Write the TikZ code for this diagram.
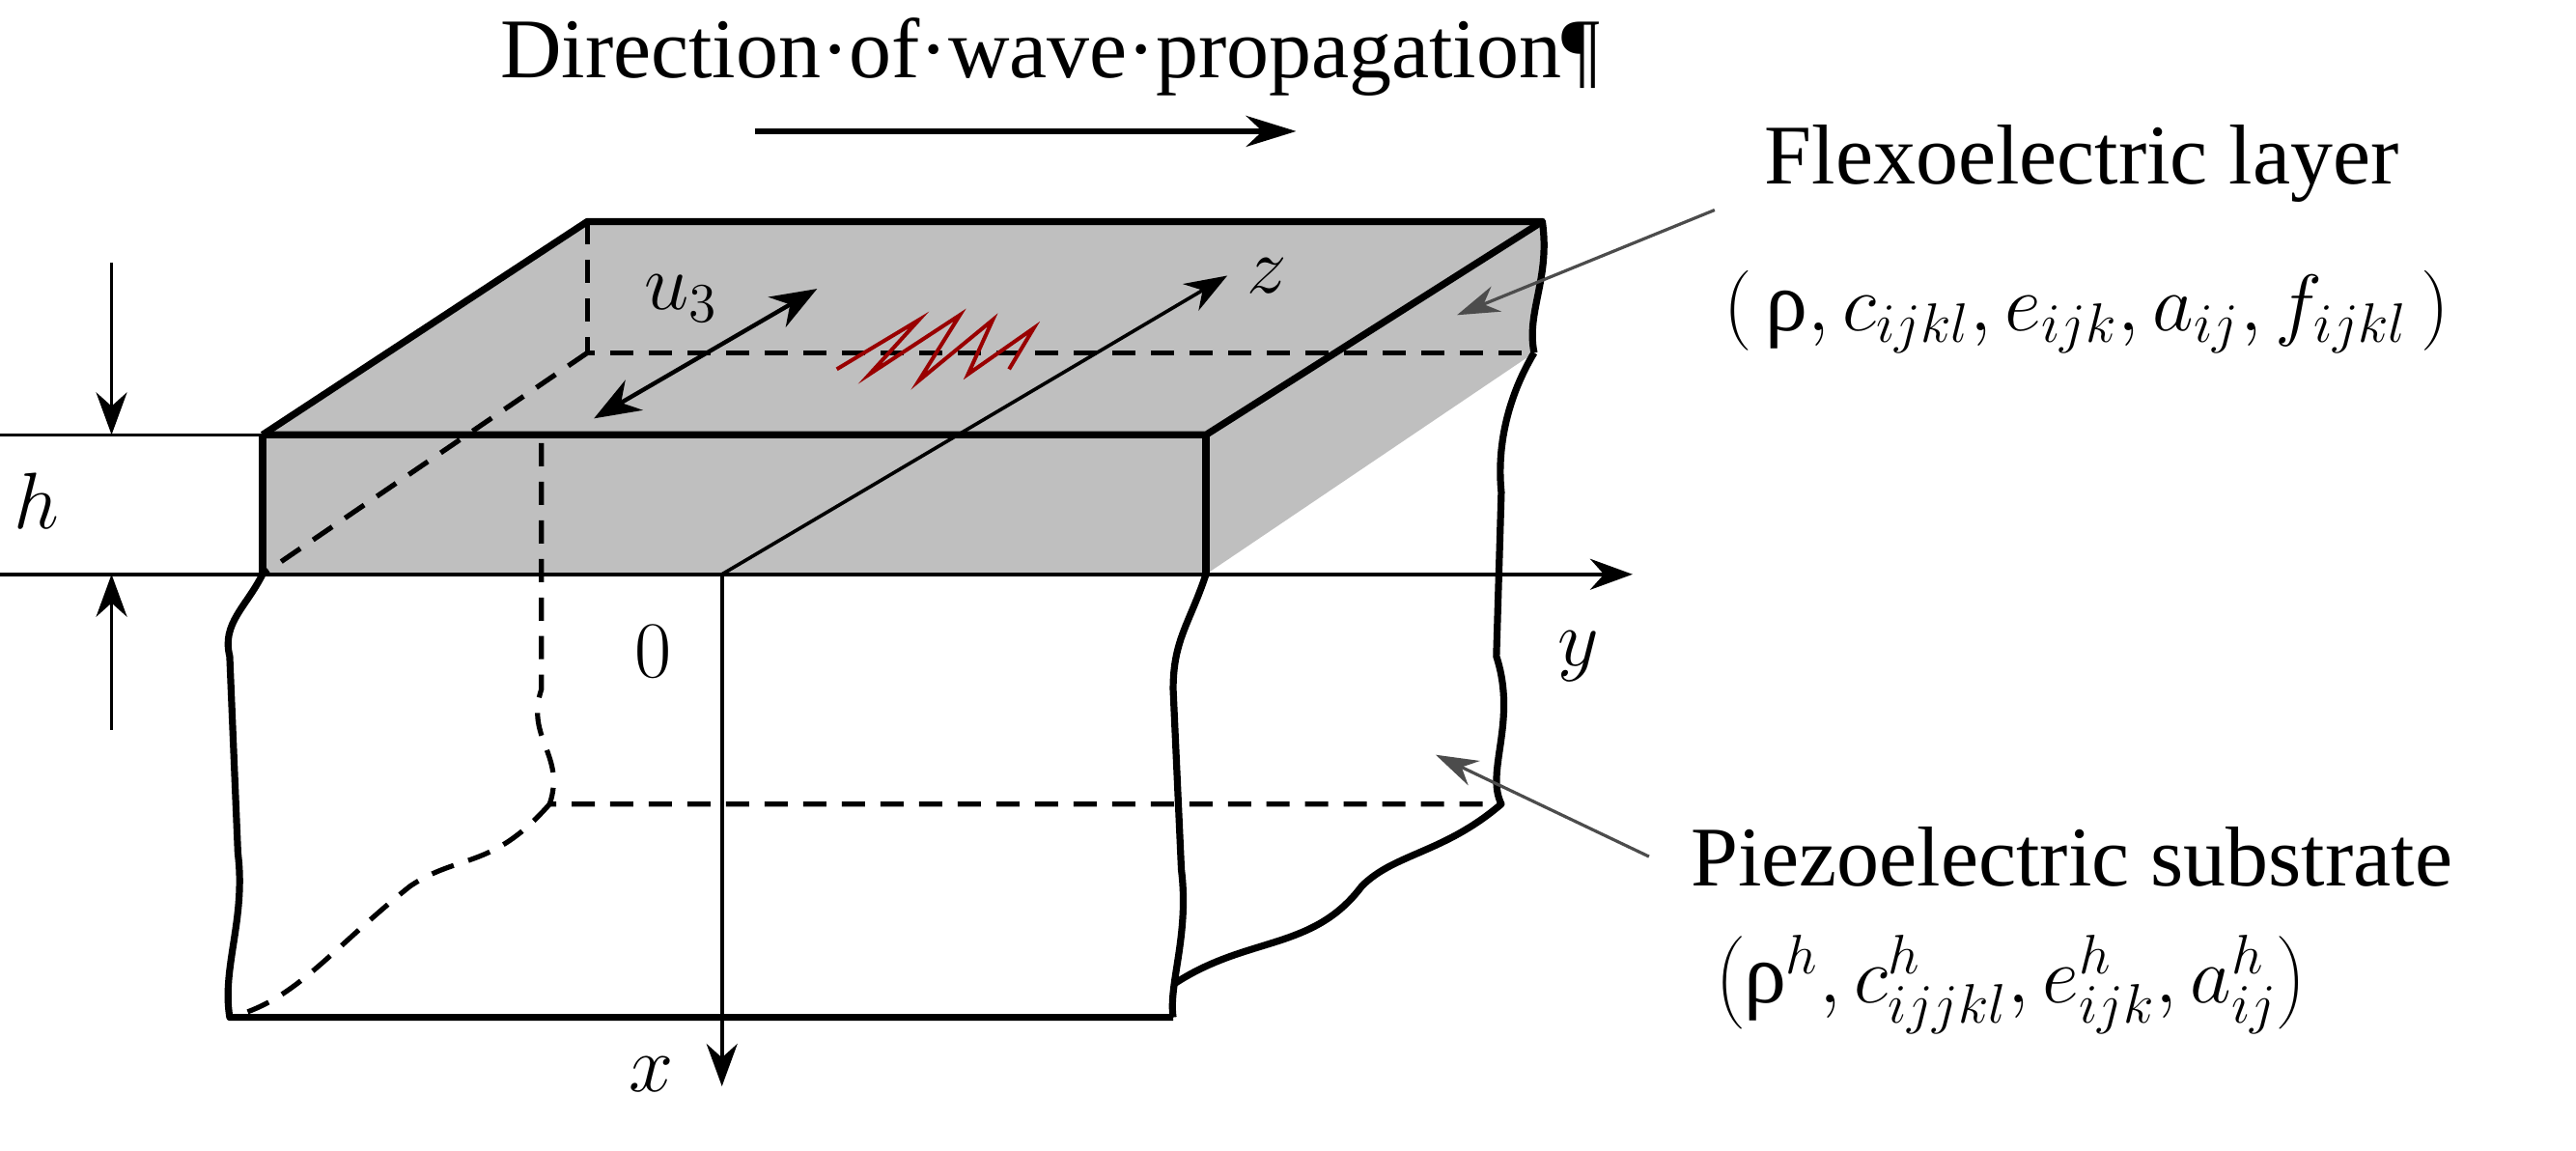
\documentclass[tikz,border=0pt]{standalone}
\usepackage{fontspec}
\setmainfont{Liberation Serif}
\usetikzlibrary{arrows.meta}
\tikzset{
  edge/.style={line width=1.8pt,line join=round},
  hidden/.style={line width=1.3pt,dash pattern=on 6pt off 4pt},
  axis/.style={line width=0.9pt,-{Stealth[length=11pt,width=8pt]}},
  leader/.style={line width=0.8pt,color=black!70,-{Stealth[length=11pt,width=7pt]}},
  lbl/.style={font=\fontsize{22}{26}\selectfont,inner sep=0pt}
}
\begin{document}
\begin{tikzpicture}[x=0.425pt,y=-0.425pt]
\useasboundingbox (0,0) rectangle (1570,701);
% corners of the layer
\coordinate (BL) at (358,135);
\coordinate (BR) at (940,135);
\coordinate (FR) at (735,265);
\coordinate (FL) at (160,265);
\coordinate (FLb) at (160,350);
\coordinate (FRb) at (735,350);
\coordinate (BRb) at (935,215);
\coordinate (BLb) at (358,215);
\coordinate (O) at (440,350);
% gray layer
\fill[black!25] (FL) -- (BL) -- (BR) .. controls (945,170) and (930,190) .. (BRb) -- (FRb) -- (FLb) -- cycle;
% hidden edges
\draw[hidden] (BL) -- (BLb) -- (BRb);
\draw[hidden] (BLb) -- (FLb);
\draw[hidden] (330,270) -- (330,420) .. controls (320,450) and (345,460) .. (335,490) -- (915,490);
\draw[hidden] (335,490) .. controls (300,530) and (280,520) .. (250,540) .. controls (200,580) and (180,610) .. (140,620);
% visible edges
\draw[edge] (FL) -- (BL) -- (BR) .. controls (945,170) and (930,190) .. (BRb);
\draw[edge] (FL) -- (FR) -- (BR);
\draw[edge] (FL) -- (FLb);
\draw[edge] (FR) -- (FRb);
\draw[edge] (FLb) .. controls (150,370) and (135,380) .. (140,400) -- (145,520) .. controls (150,560) and (135,590) .. (140,620) -- (715,620);
\draw[edge] (FRb) .. controls (725,380) and (715,390) .. (715,420) -- (720,530) .. controls (725,570) and (712,600) .. (715,620);
\draw[edge] (BRb) .. controls (920,240) and (912,270) .. (915,300) -- (912,400) .. controls (925,440) and (905,470) .. (915,490)
  .. controls (880,520) and (850,520) .. (830,540) .. controls (800,580) and (760,570) .. (715,600);
% axes
\draw[line width=0.9pt] (0,265) -- (FL);
\draw[axis] (0,350) -- (995,350);
\draw[axis] (O) -- (440,662);
\draw[axis] (O) -- (748,168);
\draw[line width=1.1pt,{Stealth[length=12pt,width=9pt]}-{Stealth[length=12pt,width=9pt]}] (362,255) -- (498,176);
\draw[axis] (68,160) -- (68,265);
\draw[axis] (68,445) -- (68,350);
% wave scribble
\draw[red!60!black,line width=1pt] (510,225) -- (560,195) -- (530,228) -- (585,192) -- (560,232) -- (605,195) -- (590,228) -- (630,200) -- (615,225);
% labels
\node[lbl] (hlab) at (22,305) {$h$};
\node[lbl] (olab) at (398,397) {$0$};
\node[lbl] (ylab) at (962,400) {$y$};
\node[lbl] (xlab) at (397,655) {$x$};
\node[lbl] (zlab) at (772,168) {$z$};
\node[lbl] (ulab) at (415,182) {$u_3$};
\node[lbl] (dir) at (640,35) {Direction·of·wave·propagation¶};
\draw[line width=1.4pt,-{Stealth[length=13pt,width=8pt]}] (460,80) -- (790,80);
\node[lbl,anchor=west] (flex) at (1075,100) {Flexoelectric layer};
\node[lbl,anchor=west] (flexp) at (1050,190) {$\left(\,\mathrm{ρ},c_{ijkl},e_{ijk},a_{ij},f_{ijkl}\,\right)$};
\node[lbl,anchor=west] (piezo) at (1030,522) {Piezoelectric substrate};
\node[lbl,anchor=west] (piezop) at (1045,600) {$\left(\mathrm{ρ}^h,c^h_{ijjkl},e^h_{ijk},a^h_{ij}\right)$};
\coordinate (fl) at (1045,128);
\coordinate (fr) at (888,192);
\coordinate (pl) at (1005,522);
\coordinate (pr) at (875,460);
\draw[leader] (fl) -- (fr);
\draw[leader] (pl) -- (pr);
\end{tikzpicture}
\end{document}
